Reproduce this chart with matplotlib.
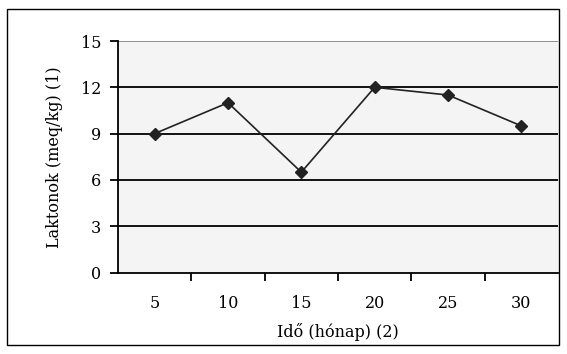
import matplotlib.pyplot as plt
from matplotlib.patches import Rectangle

# lactone content over storage time
months = ['5', '10', '15', '20', '25', '30']
laktonok = [9.0, 11.0, 6.5, 12.0, 11.5, 9.5]
yticks = [0, 3, 6, 9, 12, 15]

plt.rcParams['font.family'] = ['DejaVu Serif']

fig = plt.figure(figsize=(5.67, 3.54), dpi=100)
W, H = 567, 354
ax = fig.add_axes([118 / W, 1 - 272.5 / H, 440 / W, 231.5 / H])
ax.set_facecolor('#f4f4f4')

# horizontal grid lines, top one grey
for v in yticks[1:]:
    ax.axhline(v, color='#888888' if v == 15 else 'black', lw=1.3, zorder=1)

x = list(range(len(months)))
ax.plot(x, laktonok, color='#222222', lw=1.2, marker='D', markersize=6.5,
        markerfacecolor='#222222', markeredgecolor='#222222', zorder=3)

ax.set_xlim(-0.5, len(months) - 0.5)
ax.set_ylim(0, 15)
ax.set_yticks(yticks)
ax.set_xticks(x)
ax.set_xticklabels(months)
ax.set_xticks([i + 0.5 for i in range(len(months) - 1)], minor=True)
ax.tick_params(axis='x', which='major', length=0, pad=16, labelsize=11.5)
ax.tick_params(axis='x', which='minor', length=6, width=1.3, direction='out')
ax.tick_params(axis='y', length=6, width=1.3, direction='out', pad=6, labelsize=11.5)

for s in ['top', 'right']:
    ax.spines[s].set_visible(False)
for s in ['left', 'bottom']:
    ax.spines[s].set_linewidth(1.3)

ax.set_ylabel('Laktonok (meq/kg) (1)', fontsize=11.5, labelpad=13)
ax.set_xlabel('Idő (hónap) (2)', fontsize=11.5, labelpad=8)

# outer chart border
fig.patches.append(Rectangle((7 / W, 1 - 345 / H), 552 / W, 336 / H,
                             transform=fig.transFigure, fill=False,
                             edgecolor='black', lw=1))

fig.savefig('out.png', dpi=100)
